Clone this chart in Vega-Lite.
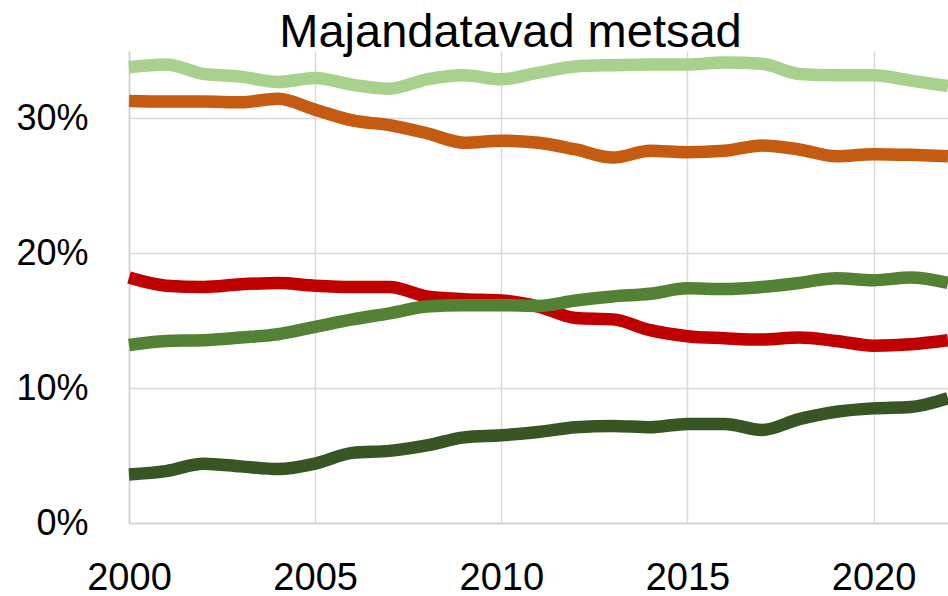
{
  "$schema": "https://vega.github.io/schema/vega-lite/v6.json",
  "width": 819,
  "height": 472,
  "autosize": {"type": "none"},
  "padding": {"left": 129, "top": 51, "right": 0, "bottom": 73},
  "background": "white",
  "title": {
    "text": "Majandatavad metsad",
    "font": "Liberation Sans",
    "fontSize": 47,
    "fontWeight": "normal",
    "color": "#000000",
    "anchor": "middle",
    "dx": -28,
    "offset": -6
  },
  "config": {
    "view": {"stroke": null},
    "font": "Liberation Sans"
  },
  "data": {
    "values": [
      {"year": 2000, "series": "Seeria 1", "value": 33.8},
      {"year": 2001, "series": "Seeria 1", "value": 34.0},
      {"year": 2002, "series": "Seeria 1", "value": 33.3},
      {"year": 2003, "series": "Seeria 1", "value": 33.1},
      {"year": 2004, "series": "Seeria 1", "value": 32.7},
      {"year": 2005, "series": "Seeria 1", "value": 33.0},
      {"year": 2006, "series": "Seeria 1", "value": 32.5},
      {"year": 2007, "series": "Seeria 1", "value": 32.2},
      {"year": 2008, "series": "Seeria 1", "value": 32.9},
      {"year": 2009, "series": "Seeria 1", "value": 33.2},
      {"year": 2010, "series": "Seeria 1", "value": 32.9},
      {"year": 2011, "series": "Seeria 1", "value": 33.4},
      {"year": 2012, "series": "Seeria 1", "value": 33.85},
      {"year": 2013, "series": "Seeria 1", "value": 33.95},
      {"year": 2014, "series": "Seeria 1", "value": 34.0},
      {"year": 2015, "series": "Seeria 1", "value": 34.0},
      {"year": 2016, "series": "Seeria 1", "value": 34.15},
      {"year": 2017, "series": "Seeria 1", "value": 34.05},
      {"year": 2018, "series": "Seeria 1", "value": 33.3},
      {"year": 2019, "series": "Seeria 1", "value": 33.2},
      {"year": 2020, "series": "Seeria 1", "value": 33.2},
      {"year": 2021, "series": "Seeria 1", "value": 32.8},
      {"year": 2022, "series": "Seeria 1", "value": 32.4},

      {"year": 2000, "series": "Seeria 2", "value": 31.3},
      {"year": 2001, "series": "Seeria 2", "value": 31.25},
      {"year": 2002, "series": "Seeria 2", "value": 31.25},
      {"year": 2003, "series": "Seeria 2", "value": 31.2},
      {"year": 2004, "series": "Seeria 2", "value": 31.45},
      {"year": 2005, "series": "Seeria 2", "value": 30.65},
      {"year": 2006, "series": "Seeria 2", "value": 29.85},
      {"year": 2007, "series": "Seeria 2", "value": 29.5},
      {"year": 2008, "series": "Seeria 2", "value": 28.9},
      {"year": 2009, "series": "Seeria 2", "value": 28.2},
      {"year": 2010, "series": "Seeria 2", "value": 28.35},
      {"year": 2011, "series": "Seeria 2", "value": 28.2},
      {"year": 2012, "series": "Seeria 2", "value": 27.7},
      {"year": 2013, "series": "Seeria 2", "value": 27.1},
      {"year": 2014, "series": "Seeria 2", "value": 27.6},
      {"year": 2015, "series": "Seeria 2", "value": 27.5},
      {"year": 2016, "series": "Seeria 2", "value": 27.6},
      {"year": 2017, "series": "Seeria 2", "value": 28.0},
      {"year": 2018, "series": "Seeria 2", "value": 27.7},
      {"year": 2019, "series": "Seeria 2", "value": 27.2},
      {"year": 2020, "series": "Seeria 2", "value": 27.35},
      {"year": 2021, "series": "Seeria 2", "value": 27.3},
      {"year": 2022, "series": "Seeria 2", "value": 27.2},

      {"year": 2000, "series": "Seeria 3", "value": 18.2},
      {"year": 2001, "series": "Seeria 3", "value": 17.6},
      {"year": 2002, "series": "Seeria 3", "value": 17.5},
      {"year": 2003, "series": "Seeria 3", "value": 17.7},
      {"year": 2004, "series": "Seeria 3", "value": 17.8},
      {"year": 2005, "series": "Seeria 3", "value": 17.6},
      {"year": 2006, "series": "Seeria 3", "value": 17.5},
      {"year": 2007, "series": "Seeria 3", "value": 17.5},
      {"year": 2008, "series": "Seeria 3", "value": 16.8},
      {"year": 2009, "series": "Seeria 3", "value": 16.6},
      {"year": 2010, "series": "Seeria 3", "value": 16.5},
      {"year": 2011, "series": "Seeria 3", "value": 16.05},
      {"year": 2012, "series": "Seeria 3", "value": 15.2},
      {"year": 2013, "series": "Seeria 3", "value": 15.1},
      {"year": 2014, "series": "Seeria 3", "value": 14.3},
      {"year": 2015, "series": "Seeria 3", "value": 13.85},
      {"year": 2016, "series": "Seeria 3", "value": 13.7},
      {"year": 2017, "series": "Seeria 3", "value": 13.6},
      {"year": 2018, "series": "Seeria 3", "value": 13.75},
      {"year": 2019, "series": "Seeria 3", "value": 13.5},
      {"year": 2020, "series": "Seeria 3", "value": 13.15},
      {"year": 2021, "series": "Seeria 3", "value": 13.25},
      {"year": 2022, "series": "Seeria 3", "value": 13.55},

      {"year": 2000, "series": "Seeria 4", "value": 13.2},
      {"year": 2001, "series": "Seeria 4", "value": 13.5},
      {"year": 2002, "series": "Seeria 4", "value": 13.55},
      {"year": 2003, "series": "Seeria 4", "value": 13.75},
      {"year": 2004, "series": "Seeria 4", "value": 14.0},
      {"year": 2005, "series": "Seeria 4", "value": 14.55},
      {"year": 2006, "series": "Seeria 4", "value": 15.1},
      {"year": 2007, "series": "Seeria 4", "value": 15.55},
      {"year": 2008, "series": "Seeria 4", "value": 16.05},
      {"year": 2009, "series": "Seeria 4", "value": 16.15},
      {"year": 2010, "series": "Seeria 4", "value": 16.15},
      {"year": 2011, "series": "Seeria 4", "value": 16.1},
      {"year": 2012, "series": "Seeria 4", "value": 16.5},
      {"year": 2013, "series": "Seeria 4", "value": 16.8},
      {"year": 2014, "series": "Seeria 4", "value": 17.0},
      {"year": 2015, "series": "Seeria 4", "value": 17.4},
      {"year": 2016, "series": "Seeria 4", "value": 17.35},
      {"year": 2017, "series": "Seeria 4", "value": 17.5},
      {"year": 2018, "series": "Seeria 4", "value": 17.8},
      {"year": 2019, "series": "Seeria 4", "value": 18.15},
      {"year": 2020, "series": "Seeria 4", "value": 18.0},
      {"year": 2021, "series": "Seeria 4", "value": 18.2},
      {"year": 2022, "series": "Seeria 4", "value": 17.8},

      {"year": 2000, "series": "Seeria 5", "value": 3.6},
      {"year": 2001, "series": "Seeria 5", "value": 3.85},
      {"year": 2002, "series": "Seeria 5", "value": 4.4},
      {"year": 2003, "series": "Seeria 5", "value": 4.2},
      {"year": 2004, "series": "Seeria 5", "value": 4.0},
      {"year": 2005, "series": "Seeria 5", "value": 4.4},
      {"year": 2006, "series": "Seeria 5", "value": 5.2},
      {"year": 2007, "series": "Seeria 5", "value": 5.35},
      {"year": 2008, "series": "Seeria 5", "value": 5.75},
      {"year": 2009, "series": "Seeria 5", "value": 6.35},
      {"year": 2010, "series": "Seeria 5", "value": 6.5},
      {"year": 2011, "series": "Seeria 5", "value": 6.75},
      {"year": 2012, "series": "Seeria 5", "value": 7.1},
      {"year": 2013, "series": "Seeria 5", "value": 7.2},
      {"year": 2014, "series": "Seeria 5", "value": 7.1},
      {"year": 2015, "series": "Seeria 5", "value": 7.35},
      {"year": 2016, "series": "Seeria 5", "value": 7.35},
      {"year": 2017, "series": "Seeria 5", "value": 6.9},
      {"year": 2018, "series": "Seeria 5", "value": 7.7},
      {"year": 2019, "series": "Seeria 5", "value": 8.25},
      {"year": 2020, "series": "Seeria 5", "value": 8.5},
      {"year": 2021, "series": "Seeria 5", "value": 8.6},
      {"year": 2022, "series": "Seeria 5", "value": 9.25}
    ]
  },
  "mark": {"type": "line", "strokeWidth": 12.5, "interpolate": "monotone", "strokeCap": "butt", "strokeJoin": "round"},
  "encoding": {
    "x": {
      "field": "year",
      "type": "quantitative",
      "scale": {"domain": [2000, 2022], "nice": false, "zero": false},
      "axis": {
        "title": null,
        "values": [2000, 2005, 2010, 2015, 2020],
        "format": "d",
        "labelFontSize": 38,
        "labelColor": "#000000",
        "labelPadding": 36,
        "ticks": false,
        "grid": true,
        "gridColor": "#d9d9d9",
        "gridWidth": 1.5,
        "domainColor": "#d0d0d0",
        "domainWidth": 1.5,
        "labelFlush": false,
        "labelOverlap": false
      }
    },
    "y": {
      "field": "value",
      "type": "quantitative",
      "scale": {"domain": [0, 35], "nice": false},
      "axis": {
        "title": null,
        "values": [0, 10, 20, 30],
        "labelExpr": "datum.value + '%'",
        "labelFontSize": 36,
        "labelColor": "#000000",
        "labelPadding": 41,
        "ticks": false,
        "grid": true,
        "gridColor": "#d9d9d9",
        "gridWidth": 1.5,
        "domainColor": "#d0d0d0",
        "domainWidth": 1.5
      }
    },
    "color": {
      "field": "series",
      "type": "nominal",
      "scale": {
        "domain": ["Seeria 1", "Seeria 2", "Seeria 3", "Seeria 4", "Seeria 5"],
        "range": ["#A9D18E", "#C55A11", "#C00000", "#548235", "#375623"]
      },
      "legend": null
    }
  }
}
